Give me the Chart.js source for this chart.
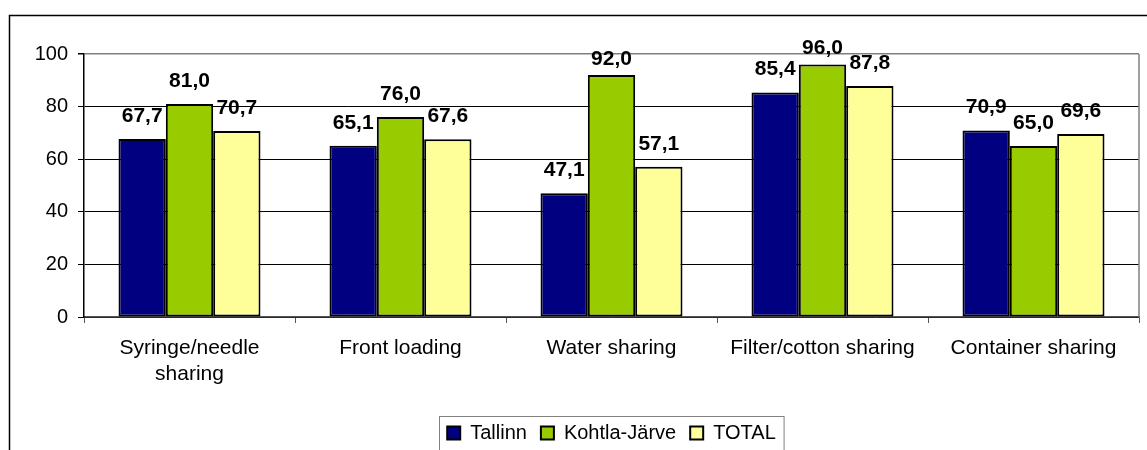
<!DOCTYPE html>
<html>
<head>
<meta charset="utf-8">
<script src="https://cdn.jsdelivr.net/npm/chart.js@4"></script>
<style>
  html, body { margin: 0; padding: 0; background: #fff; overflow: hidden; }
  #wrap { position: relative; width: 1147px; height: 450px; overflow: hidden; }
</style>
</head>
<body>
<div id="wrap"><canvas id="myChart" width="1147" height="480"></canvas></div>
<script>
const categories = [['Syringe/needle', 'sharing'], 'Front loading', 'Water sharing', 'Filter/cotton sharing', 'Container sharing'];
const tallinn = [67.7, 65.1, 47.1, 85.4, 70.9];
const kohtla = [81.0, 76.0, 92.0, 96.0, 65.0];
const total = [70.7, 67.6, 57.1, 87.8, 69.6];
const yTicks = [0, 20, 40, 60, 80, 100];

const font = 'Arial, "Liberation Sans", sans-serif';

// frame round the whole chart, plot border on the right, value labels, legend box
const extras = {
  id: 'extras',
  beforeDraw(chart) {
    const c = chart.ctx;
    c.save();
    c.fillStyle = '#fff';
    c.fillRect(0, 0, chart.width, chart.height);
    c.strokeStyle = '#000';
    c.lineWidth = 1.5;
    c.beginPath();
    c.moveTo(9.5, chart.height);
    c.lineTo(9.5, 15.5);
    c.lineTo(chart.width, 15.5);
    c.stroke();
    c.restore();
  },
  beforeDatasetsDraw(chart) {
    const a = chart.chartArea;
    const c = chart.ctx;
    c.save();
    c.strokeStyle = '#808080';
    c.lineWidth = 1.5;
    c.beginPath();
    c.moveTo(a.right, a.top);
    c.lineTo(a.right, a.bottom);
    c.stroke();
    c.restore();
  },
  afterDatasetsDraw(chart) {
    const c = chart.ctx;
    c.save();
    c.font = 'bold 21px ' + font;
    c.fillStyle = '#000';
    c.textAlign = 'center';
    c.textBaseline = 'middle';
    chart.data.datasets.forEach((ds, i) => {
      chart.getDatasetMeta(i).data.forEach((bar, j) => {
        const v = ds.data[j];
        const off = v > 90 ? 16 : 23;
        c.fillText(v.toFixed(1).replace('.', ','), bar.x, bar.y - off);
      });
    });
    c.restore();
  },
  afterDraw(chart) {
    const boxes = chart.legend.legendHitBoxes;
    if (!boxes || !boxes.length) return;
    const first = boxes[0];
    const last = boxes[boxes.length - 1];
    const left = first.left - 8;
    const right = last.left + last.width + 8;
    const top = first.top - 7;
    const c = chart.ctx;
    c.save();
    c.strokeStyle = '#808080';
    c.lineWidth = 1;
    c.strokeRect(Math.round(left) + 0.5, Math.round(top) + 0.5, right - left, 50);
    c.restore();
  }
};

const ctx = document.getElementById('myChart');

const chart = new Chart(ctx, {
  type: 'bar',
  data: {
    labels: categories,
    datasets: [
      { label: 'Tallinn', data: tallinn, backgroundColor: '#000080' },
      { label: 'Kohtla-Järve', data: kohtla, backgroundColor: '#99CC00' },
      { label: 'TOTAL', data: total, backgroundColor: '#FFFF99' }
    ]
  },
  options: {
    responsive: false,
    animation: false,
    devicePixelRatio: 1,
    layout: { padding: { left: 0, right: 8, top: 54, bottom: 27 } },
    datasets: {
      bar: {
        categoryPercentage: 0.673,
        barPercentage: 1,
        borderColor: '#000',
        borderWidth: 2,
        borderSkipped: false
      }
    },
    plugins: {
      tooltip: { enabled: false },
      legend: {
        position: 'bottom',
        fullSize: false,
        labels: {
          boxWidth: 13,
          boxHeight: 13,
          padding: 14,
          color: '#000',
          font: { family: font, size: 20 }
        }
      }
    },
    scales: {
      x: {
        afterFit: (s) => { s.height = 92; },
        grid: {
          drawOnChartArea: false,
          drawTicks: true,
          tickLength: 6,
          offset: true,
          color: '#555'
        },
        border: { color: '#555', width: 1.5 },
        ticks: {
          color: '#000',
          padding: 12,
          maxRotation: 0,
          autoSkip: false,
          font: { family: font, size: 21, lineHeight: 1.25 }
        }
      },
      y: {
        min: 0,
        max: 100,
        afterFit: (s) => { s.width = 84; },
        afterBuildTicks: (s) => { s.ticks = yTicks.map(v => ({ value: v })); },
        grid: {
          color: (c) => c.tick && c.tick.value === 100 ? '#808080' : '#000',
          lineWidth: (c) => c.tick && c.tick.value === 100 ? 1.5 : 1,
          tickColor: '#000',
          tickLength: 6
        },
        border: { color: '#000', width: 1.5 },
        ticks: {
          color: '#000',
          padding: 10,
          font: { family: font, size: 20 }
        }
      }
    }
  },
  plugins: [extras]
});
</script>
</body>
</html>
